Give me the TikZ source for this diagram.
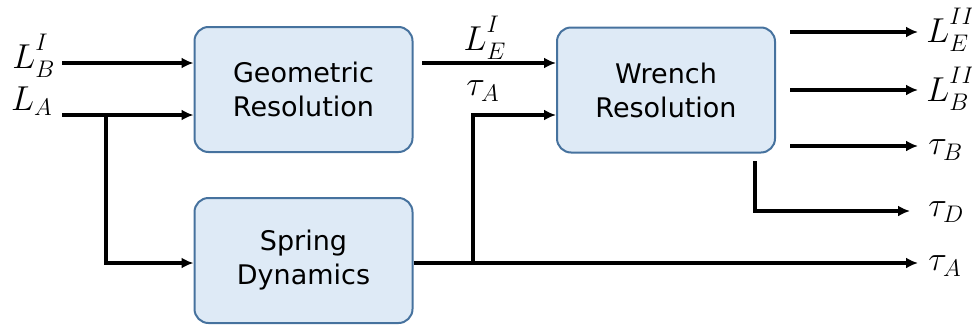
\documentclass[tikz,border=0pt]{standalone}
\usepackage{fontspec}
\setmainfont{DejaVu Sans}
\usetikzlibrary{arrows.meta}
\definecolor{boxfill}{RGB}{222,234,246}
\definecolor{boxdraw}{RGB}{70,114,158}
\newcommand{\sbx}[1]{{\vphantom{I}#1}}
\begin{document}
\begin{tikzpicture}[x=0.5pt,y=-0.5pt,
  blk/.style={draw=boxdraw,fill=boxfill,line width=1pt,rounded corners=7pt,
    minimum width=109pt,minimum height=62.5pt,align=center,
    font=\fontsize{13.5}{17}\selectfont},
  lab/.style={inner sep=0pt,font=\fontsize{18}{22}\selectfont},
  arr/.style={line width=1.6pt,-{Latex[length=6pt,width=5.5pt]}}]
\useasboundingbox (0,0) rectangle (972,327);
\node[blk] (geo) at (303.5,89.5) {Geometric\\Resolution};
\node[blk] (spr) at (303.5,260.5) {Spring\\Dynamics};
\node[blk] (wr) at (666,90) {Wrench\\Resolution};
% left labels
\node[lab] (lbi) at (34,58) {$L^{I\mathstrut}_{\mathstrut B}$};
\node[lab] (la) at (32,101) {$L_A$};
\node[lab] (lei) at (485,40) {$L^{I\mathstrut}_{\mathstrut E}$};
\node[lab] (tai) at (483,91) {$\tau_A$};
% right labels
\node[lab,anchor=west] (leo) at (926,32) {$L^{II\mathstrut}_{\mathstrut E}$};
\node[lab,anchor=west] (lbo) at (926,91) {$L^{II\mathstrut}_{\mathstrut B}$};
\node[lab,anchor=west] (tb) at (928,150) {$\tau_B$};
\node[lab,anchor=west] (td) at (928,212) {$\tau_D$};
\node[lab,anchor=west] (ta) at (928,266) {$\tau_A$};
% coordinates
\coordinate (s1) at (62,63);
\coordinate (s2) at (62,115);
\coordinate (j1) at (106,115);
\coordinate (s3) at (422,63);
\coordinate (j2) at (473,263);
\coordinate (o1) at (790,32);
\coordinate (o2) at (790,90);
\coordinate (o3) at (790,146);
\coordinate (o4) at (755,161);
\coordinate (e) at (918,0);
\coordinate (ed) at (910,0);
% connectors
\draw[arr] (s1) -- (s1 -| geo.west);
\draw[arr] (s2) -- (s2 -| geo.west);
\draw[arr] (j1) |- (spr.west |- 0,263);
\draw[arr] (s3) -- (s3 -| wr.west);
\draw[arr] (spr.east |- j2) -- (e |- j2);
\draw[arr] (j2) |- (wr.west |- 0,115);
\draw[arr] (o1) -- (e |- o1);
\draw[arr] (o2) -- (e |- o2);
\draw[arr] (o3) -- (e |- o3);
\draw[arr] (o4) |- (ed |- 0,211);
\end{tikzpicture}
\end{document}
